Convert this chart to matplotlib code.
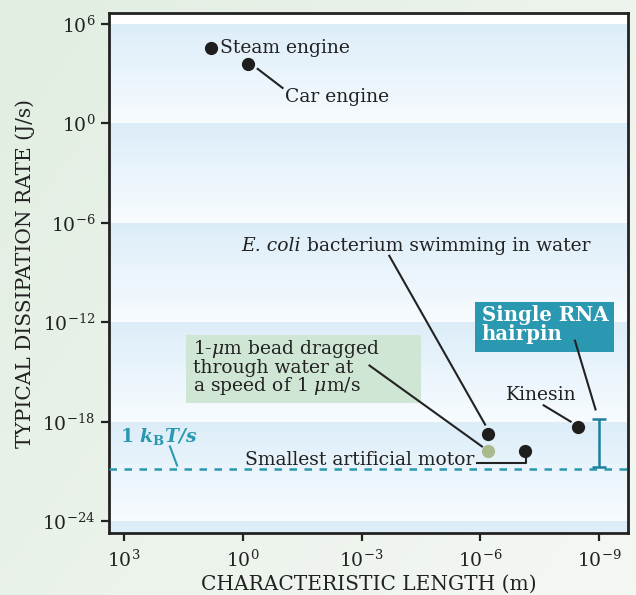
import numpy as np
import matplotlib
matplotlib.use("Agg")
import matplotlib.pyplot as plt
from matplotlib.patches import Rectangle
from matplotlib.colors import LinearSegmentedColormap

plt.rcParams['font.family'] = ['DejaVu Serif']
plt.rcParams['mathtext.fontset'] = 'dejavuserif'

# ---------------- data ----------------
names = ["Steam engine", "Car engine", "E. coli", "bead", "Smallest artificial motor", "Kinesin"]
log_length = [0.8, -0.13, -6.2, -6.2, -7.13, -8.47]      # log10(m)
log_rate = [4.55, 3.6, -18.7, -19.75, -19.75, -18.3]      # log10(J/s)
point_colors = ["#1e1e1e", "#1e1e1e", "#1e1e1e", "#a9bb8c", "#1e1e1e", "#1e1e1e"]

rna_log_length = -9.0
rna_log_rate_range = [-20.7, -17.8]
kbt_log_rate = -20.85

xtick_exps = [3, 0, -3, -6, -9]
ytick_exps = [6, 0, -6, -12, -18, -24]

TXT = "#222222"
TEAL = "#2a98b0"

fig = plt.figure(figsize=(6.36, 5.95), dpi=100)

# figure background gradient
bg = fig.add_axes([0, 0, 1, 1], zorder=-10)
gx = np.linspace(0, 1, 200)
gy = np.linspace(0, 1, 200)
G = 0.6 * gx[None, :] + 0.4 * gy[:, None]
bg_cmap = LinearSegmentedColormap.from_list("bg", ["#e2eee2", "#f4f8f3"])
bg.imshow(G, cmap=bg_cmap, aspect="auto", extent=[0, 1, 0, 1], origin="upper")
bg.set_axis_off()

ax = fig.add_axes([109/636, 62/595, 519/636, 520/595])
ax.set_xscale("log")
ax.set_yscale("log")
ax.set_xlim(10**3.38, 10**-9.73)
ax.set_ylim(10**-24.7, 10**6.66)
ax.set_facecolor("white")

# background bands (gradient per 6 decades)
band_cmap = LinearSegmentedColormap.from_list("band", ["#dcedf8", "#f7fbfe"])
for top in [6, 0, -6, -12, -18, -24]:
    n = 40
    edges = np.linspace(top, top - 6, n + 1)
    for i in range(n):
        ax.axhspan(10**edges[i + 1], 10**edges[i], color=band_cmap(i / (n - 1)), lw=0, zorder=0)

# points
xs = [10**v for v in log_length]
ys = [10**v for v in log_rate]
for x, y, c in zip(xs, ys, point_colors):
    ax.plot(x, y, "o", ms=8.5, color=c, zorder=5)

# RNA hairpin range
ymid = 10**np.mean(rna_log_rate_range)
ax.errorbar([10**rna_log_length], [ymid],
            yerr=[[ymid - 10**rna_log_rate_range[0]], [10**rna_log_rate_range[1] - ymid]],
            fmt="none", ecolor="#1d7fa0", elinewidth=1.8, capsize=5, capthick=1.8, zorder=5)

# kBT/s dashed line
ax.axhline(10**kbt_log_rate, color=TEAL, lw=1.8, ls=(0, (3, 3)), zorder=4)

FS = 13.5
LFS = 14.5

def line(p1, p2, color=TXT):
    ax.plot([10**p1[0], 10**p2[0]], [10**p1[1], 10**p2[1]], color=color, lw=1.5, zorder=4)

# labels and leaders
ax.text(10**0.58, 10**4.55, "Steam engine", fontsize=FS, color=TXT, ha="left", va="center", zorder=6)
ax.text(10**-1.06, 10**1.6, "Car engine", fontsize=FS, color=TXT, ha="left", va="center", zorder=6)
line((-0.375, 3.29), (-1.005, 2.14))

t_ecoli = ax.text(10**0.03, 10**-7.7, "E. coli", fontsize=FS, style="italic",
                  color=TXT, ha="left", va="baseline", zorder=6)
ax.annotate(" bacterium swimming in water", xy=(1, 0), xycoords=t_ecoli, fontsize=FS,
            color=TXT, ha="left", va="bottom", zorder=6)
line((-3.70, -7.98), (-6.12, -18.16))

ax.add_patch(Rectangle((0.148, 0.25), 0.453, 0.131, transform=ax.transAxes,
                       fc="#cfe6d4", ec="none", zorder=3))
ax.text(10**1.26, 10**-12.95, "1-$\\mu$m bead dragged\nthrough water at\na speed of 1 $\\mu$m/s",
        fontsize=FS, color=TXT, ha="left", va="top", linespacing=0.9, zorder=6)
line((-3.20, -14.6), (-6.04, -19.48))

ax.text(10**-5.84, 10**-20.27, "Smallest artificial motor", fontsize=FS, color=TXT,
        ha="right", va="center", zorder=6)
ax.plot([10**-5.92, 10**-7.15, 10**-7.15], [10**-20.5, 10**-20.5, 10**-20.08],
        color=TXT, lw=1.5, zorder=4)

ax.text(10**-7.53, 10**-16.35, "Kinesin", fontsize=FS, color=TXT, ha="center", va="center", zorder=6)
line((-7.60, -17.0), (-8.28, -17.98))

ax.add_patch(Rectangle((0.705, 0.348), 0.268, 0.096, transform=ax.transAxes,
                       fc=TEAL, ec="none", zorder=3))
ax.text(10**-6.04, 10**-10.95, "Single RNA\nhairpin", fontsize=14.2, color="white",
        fontweight="bold", ha="left", va="top", linespacing=0.95, zorder=6)
line((-8.39, -13.1), (-8.91, -17.25))

ax.text(10**3.1, 10**-18.88, r"1 $\mathbfit{k}_{\mathbf{B}}\mathbfit{T/s}$", fontsize=FS,
        color=TEAL, fontweight="bold", ha="left", va="center", zorder=6)
line((1.84, -19.48), (1.66, -20.63), color=TEAL)

# axes styling
ax.set_xticks([10.0**e for e in xtick_exps])
ax.set_xticklabels([f"$10^{{{e}}}$" for e in xtick_exps])
ax.set_yticks([10.0**e for e in ytick_exps])
ax.set_yticklabels([f"$10^{{{e}}}$" for e in ytick_exps])
ax.minorticks_off()
ax.tick_params(axis="both", direction="out", length=6, width=1.6, colors=TXT,
               labelsize=FS, pad=4)
ax.tick_params(axis="x", pad=6)
for s in ax.spines.values():
    s.set_linewidth(2.0)
    s.set_color(TXT)

ax.set_xlabel("CHARACTERISTIC LENGTH (m)", fontsize=LFS, color=TXT, labelpad=3)
ax.set_ylabel("TYPICAL DISSIPATION RATE (J/s)", fontsize=LFS, color=TXT, labelpad=5)

fig.savefig("out.png", dpi=100)
